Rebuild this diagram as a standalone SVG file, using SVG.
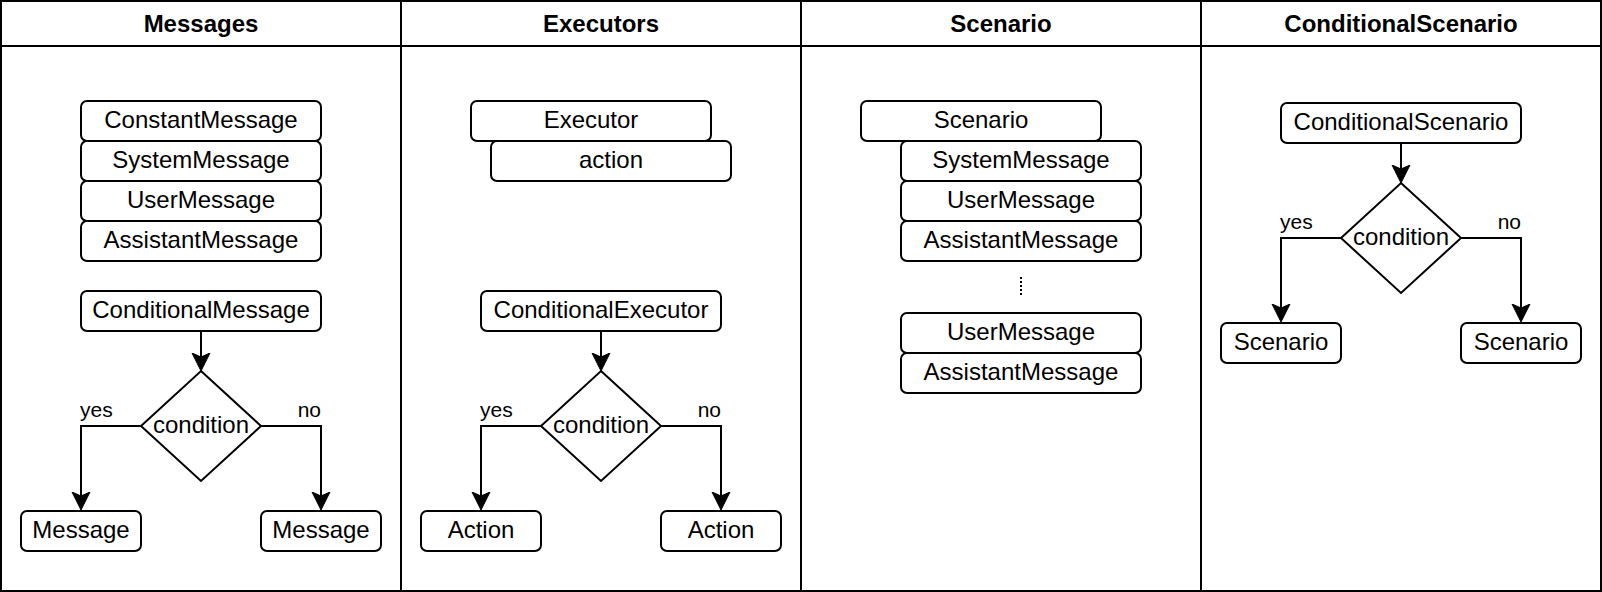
<svg xmlns="http://www.w3.org/2000/svg" width="1602" height="592" viewBox="0 0 1602 592">
<style>
text{font-family:"Liberation Sans",Arial,sans-serif;fill:#000}
.t{font-size:24px;text-anchor:middle}
.h{font-size:24px;font-weight:bold;text-anchor:middle}
.lbl{font-size:21px}
.box{fill:#fff;stroke:#000;stroke-width:2}
.ln{fill:none;stroke:#000;stroke-width:2}
.dot{fill:none;stroke:#000;stroke-width:2;stroke-dasharray:2 2}
</style>
<defs>
<marker id="arr" markerUnits="userSpaceOnUse" viewBox="0 -10 20 20" refX="4" refY="0" markerWidth="20" markerHeight="20" orient="auto">
<path d="M0,-9 L18,0 L0,9 L4,0 Z" fill="#000" stroke="#000" stroke-width="1"/>
</marker>
</defs>
<rect width="1602" height="592" fill="#fff"/>
<g id="lanes">
<rect x="1" y="1" width="1600" height="590" class="ln"/>
<line x1="1" y1="46" x2="1601" y2="46" class="ln"/>
<line x1="401" y1="1" x2="401" y2="591" class="ln"/>
<line x1="801" y1="1" x2="801" y2="591" class="ln"/>
<line x1="1201" y1="1" x2="1201" y2="591" class="ln"/>
<text class="h" x="201" y="32">Messages</text>
<text class="h" x="601" y="32">Executors</text>
<text class="h" x="1001" y="32">Scenario</text>
<text class="h" x="1401" y="32">ConditionalScenario</text>
</g>
<g id="connectors">
<path class="ln" d="M201,331 V357" marker-end="url(#arr)"/>
<path class="ln" d="M141,426 H81 V496" marker-end="url(#arr)"/>
<path class="ln" d="M261,426 H321 V496" marker-end="url(#arr)"/>
<path class="ln" d="M601,331 V357" marker-end="url(#arr)"/>
<path class="ln" d="M541,426 H481 V496" marker-end="url(#arr)"/>
<path class="ln" d="M661,426 H721 V496" marker-end="url(#arr)"/>
<path class="ln" d="M1401,143 V169" marker-end="url(#arr)"/>
<path class="ln" d="M1341,238 H1281 V308" marker-end="url(#arr)"/>
<path class="ln" d="M1461,238 H1521 V308" marker-end="url(#arr)"/>
<line class="dot" x1="1021" y1="277" x2="1021" y2="295"/>
<text class="lbl" x="80" y="417">yes</text>
<text class="lbl" x="321" y="417" text-anchor="end">no</text>
<text class="lbl" x="480" y="417">yes</text>
<text class="lbl" x="721" y="417" text-anchor="end">no</text>
<text class="lbl" x="1280" y="229">yes</text>
<text class="lbl" x="1521" y="229" text-anchor="end">no</text>
</g>
<g id="constantMessage"><rect class="box" x="81" y="101" width="240" height="40" rx="6"/><text class="t" x="201" y="128">ConstantMessage</text></g>
<g id="systemMessage"><rect class="box" x="81" y="141" width="240" height="40" rx="6"/><text class="t" x="201" y="168">SystemMessage</text></g>
<g id="userMessage"><rect class="box" x="81" y="181" width="240" height="40" rx="6"/><text class="t" x="201" y="208">UserMessage</text></g>
<g id="assistantMessage"><rect class="box" x="81" y="221" width="240" height="40" rx="6"/><text class="t" x="201" y="248">AssistantMessage</text></g>
<g id="conditionalMessage"><rect class="box" x="81" y="291" width="240" height="40" rx="6"/><text class="t" x="201" y="318">ConditionalMessage</text></g>
<g id="condition1"><polygon class="box" points="201,371 261,426 201,481 141,426"/><text class="t" x="201" y="433">condition</text></g>
<g id="messageYes"><rect class="box" x="21" y="511" width="120" height="40" rx="6"/><text class="t" x="81" y="538">Message</text></g>
<g id="messageNo"><rect class="box" x="261" y="511" width="120" height="40" rx="6"/><text class="t" x="321" y="538">Message</text></g>
<g id="executor"><rect class="box" x="471" y="101" width="240" height="40" rx="6"/><text class="t" x="591" y="128">Executor</text></g>
<g id="action"><rect class="box" x="491" y="141" width="240" height="40" rx="6"/><text class="t" x="611" y="168">action</text></g>
<g id="conditionalExecutor"><rect class="box" x="481" y="291" width="240" height="40" rx="6"/><text class="t" x="601" y="318">ConditionalExecutor</text></g>
<g id="condition2"><polygon class="box" points="601,371 661,426 601,481 541,426"/><text class="t" x="601" y="433">condition</text></g>
<g id="actionYes"><rect class="box" x="421" y="511" width="120" height="40" rx="6"/><text class="t" x="481" y="538">Action</text></g>
<g id="actionNo"><rect class="box" x="661" y="511" width="120" height="40" rx="6"/><text class="t" x="721" y="538">Action</text></g>
<g id="scenario"><rect class="box" x="861" y="101" width="240" height="40" rx="6"/><text class="t" x="981" y="128">Scenario</text></g>
<g id="scSystemMessage"><rect class="box" x="901" y="141" width="240" height="40" rx="6"/><text class="t" x="1021" y="168">SystemMessage</text></g>
<g id="scUserMessage1"><rect class="box" x="901" y="181" width="240" height="40" rx="6"/><text class="t" x="1021" y="208">UserMessage</text></g>
<g id="scAssistantMessage1"><rect class="box" x="901" y="221" width="240" height="40" rx="6"/><text class="t" x="1021" y="248">AssistantMessage</text></g>
<g id="scUserMessage2"><rect class="box" x="901" y="313" width="240" height="40" rx="6"/><text class="t" x="1021" y="340">UserMessage</text></g>
<g id="scAssistantMessage2"><rect class="box" x="901" y="353" width="240" height="40" rx="6"/><text class="t" x="1021" y="380">AssistantMessage</text></g>
<g id="conditionalScenario"><rect class="box" x="1281" y="103" width="240" height="40" rx="6"/><text class="t" x="1401" y="130">ConditionalScenario</text></g>
<g id="condition4"><polygon class="box" points="1401,183 1461,238 1401,293 1341,238"/><text class="t" x="1401" y="245">condition</text></g>
<g id="scenarioYes"><rect class="box" x="1221" y="323" width="120" height="40" rx="6"/><text class="t" x="1281" y="350">Scenario</text></g>
<g id="scenarioNo"><rect class="box" x="1461" y="323" width="120" height="40" rx="6"/><text class="t" x="1521" y="350">Scenario</text></g>
</svg>
